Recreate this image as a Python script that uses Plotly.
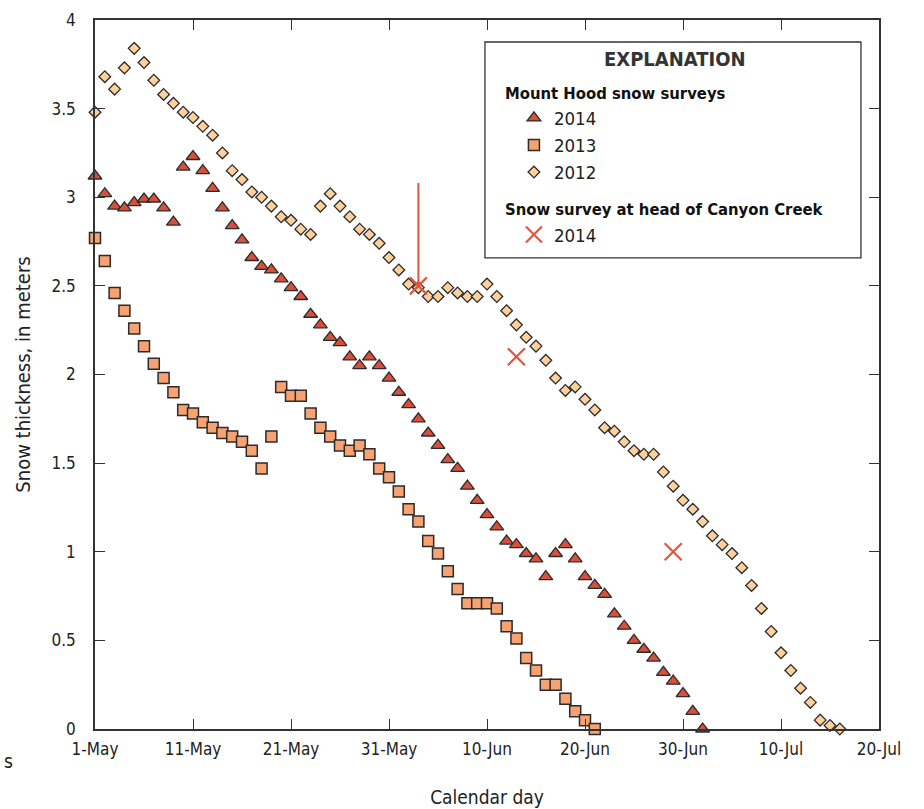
import pandas as pd
import plotly.graph_objects as go

# ---- data (snow thickness, meters; one observation per day starting 1-May) ----
start_date = "2014-05-01"
thick_2014 = [3.12, 3.02, 2.95, 2.94, 2.97, 2.99, 2.99, 2.94, 2.86, 3.17,
              3.23, 3.15, 3.05, 2.94, 2.84, 2.76, 2.66, 2.61, 2.59, 2.54,
              2.49, 2.44, 2.34, 2.28, 2.21, 2.18, 2.10, 2.05, 2.10, 2.05,
              1.98, 1.90, 1.83, 1.75, 1.67, 1.60, 1.52, 1.47, 1.37, 1.29,
              1.21, 1.14, 1.06, 1.04, 0.99, 0.96, 0.86, 0.99, 1.04, 0.96,
              0.86, 0.81, 0.76, 0.65, 0.58, 0.50, 0.45, 0.40, 0.32, 0.27,
              0.20, 0.10, 0.00]
thick_2013 = [2.77, 2.64, 2.46, 2.36, 2.26, 2.16, 2.06, 1.98, 1.90, 1.80,
              1.78, 1.73, 1.70, 1.67, 1.65, 1.62, 1.57, 1.47, 1.65, 1.93,
              1.88, 1.88, 1.78, 1.70, 1.65, 1.60, 1.57, 1.60, 1.55, 1.47,
              1.42, 1.34, 1.24, 1.17, 1.06, 0.99, 0.89, 0.79, 0.71, 0.71,
              0.71, 0.68, 0.58, 0.51, 0.40, 0.33, 0.25, 0.25, 0.17, 0.10,
              0.05, 0.00]
thick_2012 = [3.48, 3.68, 3.61, 3.73, 3.84, 3.76, 3.66, 3.58, 3.53, 3.48,
              3.45, 3.40, 3.35, 3.25, 3.15, 3.10, 3.03, 3.00, 2.95, 2.89,
              2.87, 2.82, 2.79, 2.95, 3.02, 2.95, 2.89, 2.82, 2.79, 2.74,
              2.66, 2.59, 2.51, 2.49, 2.44, 2.44, 2.49, 2.46, 2.44, 2.44,
              2.51, 2.44, 2.36, 2.28, 2.21, 2.16, 2.08, 1.98, 1.91, 1.93,
              1.86, 1.80, 1.70, 1.68, 1.62, 1.57, 1.55, 1.55, 1.45, 1.37,
              1.29, 1.24, 1.17, 1.09, 1.04, 0.99, 0.91, 0.81, 0.68, 0.55,
              0.43, 0.33, 0.23, 0.15, 0.05, 0.02, 0.00]
canyon_dates = ["2014-06-03", "2014-06-13", "2014-06-29"]
canyon_thick = [2.50, 2.10, 1.00]
canyon_err_plus = [0.58, 0.0, 0.0]

tick_dates = ["2014-05-01", "2014-05-11", "2014-05-21", "2014-05-31", "2014-06-10",
              "2014-06-20", "2014-06-30", "2014-07-10", "2014-07-20"]
tick_labels = ["1-May", "11-May", "21-May", "31-May", "10-Jun",
               "20-Jun", "30-Jun", "10-Jul", "20-Jul"]
y_ticks = [0, 0.5, 1, 1.5, 2, 2.5, 3, 3.5, 4]
y_labels = ["0", "0.5", "1", "1.5", "2", "2.5", "3", "3.5", "4"]

FONT = "Liberation Sans Narrow, DejaVu Sans Condensed, Roboto Condensed, Arial Narrow, sans-serif"
EDGE = "#2b2b2b"


def days(values):
    return pd.date_range(start_date, periods=len(values), freq="D")


fig = go.Figure()

grp1 = "<b>Mount Hood snow surveys</b>"
grp2 = "<b>Snow survey at head of Canyon Creek</b>"
grp_font = dict(family=FONT, size=16.5, color="#111")

fig.add_trace(go.Scatter(
    x=days(thick_2014), y=thick_2014, mode="markers", name="2014",
    legendgroup="hood", legendgrouptitle=dict(text=grp1, font=grp_font),
    marker=dict(symbol="triangle-up", size=12, color="#d8503b",
                line=dict(color=EDGE, width=1.3)),
    cliponaxis=False))
fig.add_trace(go.Scatter(
    x=days(thick_2013), y=thick_2013, mode="markers", name="2013",
    legendgroup="hood",
    marker=dict(symbol="square", size=11, color="#f8a272",
                line=dict(color=EDGE, width=1.5)),
    cliponaxis=False))
fig.add_trace(go.Scatter(
    x=days(thick_2012), y=thick_2012, mode="markers", name="2012",
    legendgroup="hood",
    marker=dict(symbol="diamond", size=9, color="#fed19c",
                line=dict(color=EDGE, width=1.3)),
    cliponaxis=False))
fig.add_trace(go.Scatter(
    x=pd.to_datetime(canyon_dates), y=canyon_thick, mode="markers", name="2014",
    legendgroup="canyon", legendgrouptitle=dict(text=grp2, font=grp_font),
    marker=dict(symbol="x-thin", size=17, color="#e05540",
                line=dict(color="#e05540", width=2.2)),
    error_y=dict(type="data", symmetric=False, array=canyon_err_plus,
                 arrayminus=[0, 0, 0], color="#e05540", thickness=2, width=0),
    cliponaxis=False))

axis_common = dict(showline=True, linecolor="#333", linewidth=1.5, mirror="ticks",
                   ticks="inside", ticklen=10, tickwidth=1.3, tickcolor="#333",
                   showgrid=False, zeroline=False,
                   tickfont=dict(family=FONT, size=17, color="#222"))

fig.update_layout(
    width=924, height=809,
    margin=dict(l=95, r=45, t=20, b=80, autoexpand=False),
    paper_bgcolor="white", plot_bgcolor="white",
    font=dict(family=FONT, size=17, color="#222"),
    xaxis=dict(range=[pd.Timestamp("2014-05-01"), pd.Timestamp("2014-07-20")],
               tickvals=pd.to_datetime(tick_dates), ticktext=tick_labels,
               ticklabelstandoff=4,
               title=dict(text="Calendar day", font=dict(family=FONT, size=19, color="#222"),
                          standoff=33),
               automargin=False, **axis_common),
    yaxis=dict(range=[0, 4], tickvals=y_ticks, ticktext=y_labels,
               ticklabelstandoff=14,
               title=dict(text="Snow thickness, in meters", font=dict(family=FONT, size=20, color="#222"),
                          standoff=16),
               automargin=False, **axis_common),
    legend=dict(
        x=0.5165, y=0.9225, xanchor="left", yanchor="top",
        bgcolor="rgba(0,0,0,0)", borderwidth=0,
        font=dict(family=FONT, size=18.5, color="#222"),
        traceorder="grouped", tracegroupgap=11, itemsizing="trace",
        indentation=14,
    ),
    showlegend=True,
    shapes=[dict(type="rect", xref="paper", yref="paper",
                 x0=0.4974, x1=0.977, y0=0.6645, y1=0.969,
                 line=dict(color="#333", width=1.3), fillcolor="white", layer="below")],
)

fig.add_annotation(text="<b>EXPLANATION</b>", xref="paper", yref="paper",
                   x=0.7395, y=0.945, xanchor="center", yanchor="middle", showarrow=False,
                   font=dict(family=FONT, size=20, color="#333"))
fig.add_annotation(text="s", xref="paper", yref="paper", x=-0.118, y=-0.045,
                   xanchor="left", yanchor="middle", showarrow=False,
                   font=dict(family=FONT, size=19, color="#222"))

fig.write_html("out.html")
